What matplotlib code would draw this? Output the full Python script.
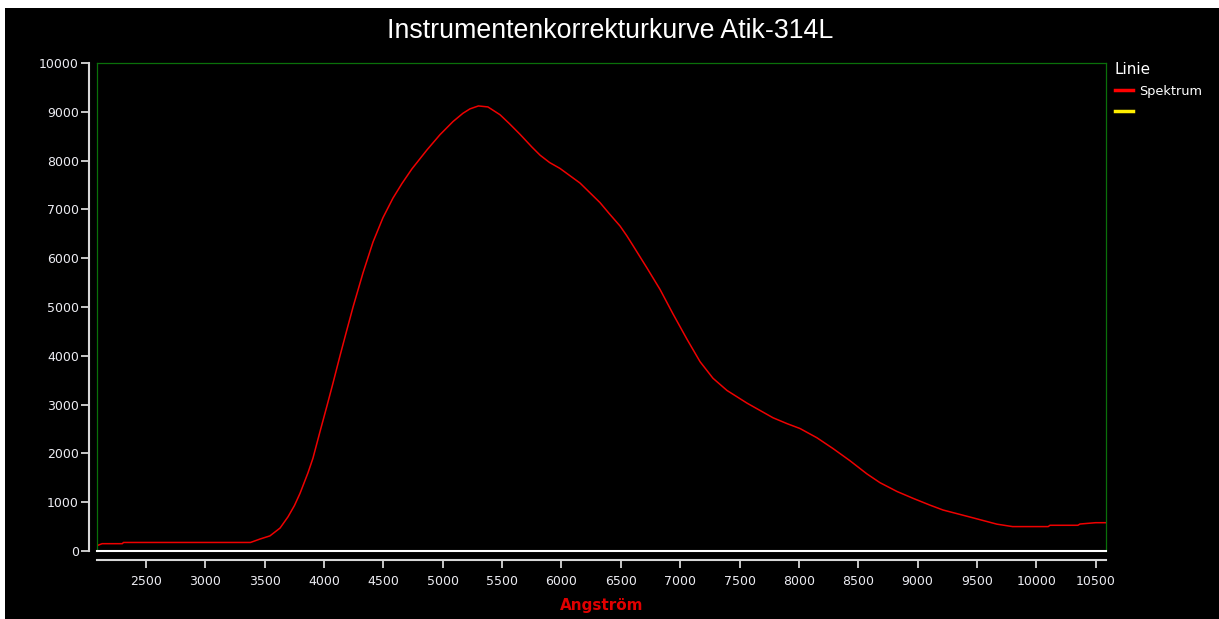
import matplotlib
matplotlib.use("Agg")
import matplotlib.pyplot as plt
from matplotlib.patches import Rectangle

# Spektrum (Angström / Intensität)
wellenlaenge = [2087, 2130, 2300, 2310, 3380, 3460, 3544, 3629, 3696, 3750, 3797,
                3864, 3906, 3966, 4025, 4075, 4134, 4193, 4244, 4328, 4412, 4496,
                4580, 4656, 4740, 4867, 4976, 5086, 5170, 5229, 5300, 5380, 5482,
                5560, 5650, 5750, 5820, 5900, 5987, 6156, 6324, 6400, 6493, 6550,
                6602, 6720, 6830, 6939, 7057, 7167, 7276, 7394, 7563, 7782, 7900,
                8009, 8152, 8287, 8430, 8573, 8683, 8826, 8961, 9104, 9214, 9466,
                9668, 9800, 10100, 10115, 10350, 10368, 10500, 10587]
intensitaet = [110, 150, 150, 175, 175, 245, 310, 470, 700, 930, 1180,
               1600, 1900, 2450, 2980, 3440, 4000, 4540, 5000, 5700, 6330, 6830,
               7230, 7530, 7830, 8220, 8530, 8800, 8970, 9060, 9120, 9100, 8940,
               8760, 8540, 8280, 8110, 7960, 7840, 7540, 7140, 6920, 6660, 6460,
               6260, 5800, 5360, 4860, 4340, 3880, 3540, 3290, 3030, 2730, 2610,
               2510, 2320, 2100, 1850, 1580, 1400, 1220, 1080, 940, 840, 680,
               550, 500, 500, 527, 527, 553, 580, 580]

x_ticks = list(range(2500, 10501, 500))
y_ticks = list(range(0, 10001, 1000))

plt.rcParams['font.family'] = ['DejaVu Sans']

fig = plt.figure(figsize=(12.19, 6.19), dpi=100, facecolor='white')
fig.patches.append(Rectangle((5 / 1219, 0), 1, 1 - 8 / 619, transform=fig.transFigure,
                             facecolor='black', edgecolor='none', zorder=-10))

pos = [97 / 1219, 1 - 551 / 619, (1106 - 97) / 1219, (551 - 63) / 619]

# Rahmen (grün) mit weißer Nulllinie
ax = fig.add_axes(pos, facecolor='black')
for s in ['left', 'top', 'right']:
    ax.spines[s].set_color('#0a700a')
    ax.spines[s].set_linewidth(0.9)
ax.spines['bottom'].set_color('white')
ax.spines['bottom'].set_linewidth(1.5)
ax.tick_params(length=0, labelleft=False, labelbottom=False)

ax.plot(wellenlaenge, intensitaet, color='#ee0000', lw=1.1)
linie_leg, = ax.plot([], [], color='#ff0000', lw=2.5)
leer, = ax.plot([], [], color='#ffee00', lw=2.5)

ax.set_xlim(2087, 10587)
ax.set_ylim(0, 10000)

# Achsen (weiß, abgesetzt)
ax2 = fig.add_axes(pos, facecolor='none', sharex=ax, sharey=ax)
ax2.spines['top'].set_visible(False)
ax2.spines['right'].set_visible(False)
ax2.spines['left'].set_position(('outward', 5.6))
ax2.spines['bottom'].set_position(('outward', 6.5))
for s in ['left', 'bottom']:
    ax2.spines[s].set_color('#d8d8d8')
    ax2.spines[s].set_linewidth(1.5)
ax2.set_xticks(x_ticks)
ax2.set_yticks(y_ticks)
ax2.tick_params(axis='y', colors='#d8d8d8', labelcolor='#ececf2', length=6, width=1.3,
                labelsize=9, pad=1.5)
ax2.tick_params(axis='x', colors='#d8d8d8', labelcolor='#ececf2', length=6, width=1.3,
                labelsize=9, pad=5)
ax2.set_xlabel('Angström', color='#e00000', fontweight='bold', fontsize=11, labelpad=7)

fig.text(610 / 1219, 1 - 31 / 619, 'Instrumentenkorrekturkurve Atik-314L', color='white',
         fontsize=19.3, ha='center', va='center', family='Liberation Sans')

leg = ax.legend(handles=[linie_leg, leer], labels=['Spektrum', ' '], title='Linie',
                loc='upper left', bbox_to_anchor=(1.006, 1.008), frameon=False,
                prop={'family': 'DejaVu Sans', 'size': 9.3}, handlelength=1.45,
                handletextpad=0.45, labelspacing=0.62, alignment='left',
                borderpad=0.2, borderaxespad=0)
leg.get_title().set_color('white')
leg.get_title().set_fontsize(11)
for t in leg.get_texts():
    t.set_color('white')

fig.savefig('out.png', dpi=100, facecolor=fig.get_facecolor())
